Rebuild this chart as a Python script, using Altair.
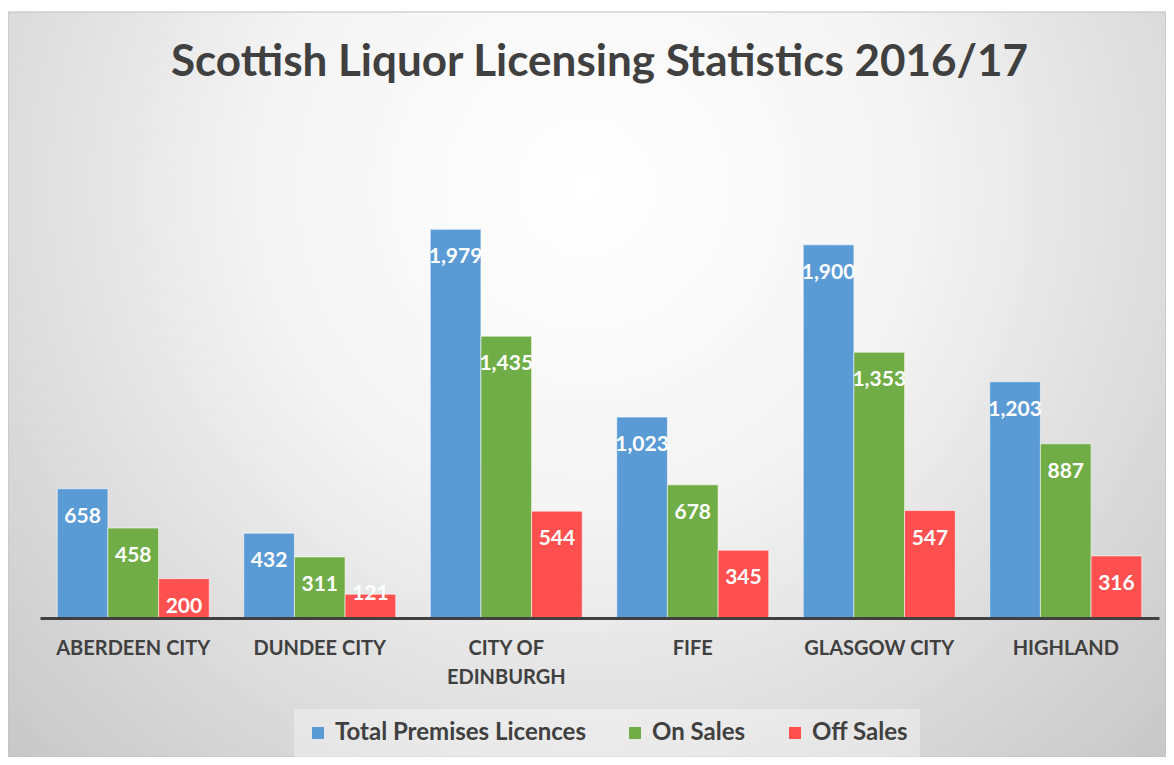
import altair as alt
import pandas as pd

regions = ["ABERDEEN CITY", "DUNDEE CITY", "CITY OF EDINBURGH", "FIFE", "GLASGOW CITY", "HIGHLAND"]
series = ["Total Premises Licences", "On Sales", "Off Sales"]
total = [658, 432, 1979, 1023, 1900, 1203]
on_sales = [458, 311, 1435, 678, 1353, 887]
off_sales = [200, 121, 544, 345, 547, 316]
colors = ["#5B9BD5", "#70AD47", "#FF5050"]

rows = []
for s, vals in zip(series, [total, on_sales, off_sales]):
    for r, v in zip(regions, vals):
        rows.append({"region": r, "series": s, "value": v})
df = pd.DataFrame(rows)

W, H = 1119, 491
FONT = "Lato"
DARK = "#404040"

x = alt.X(
    "region:N", sort=regions,
    scale=alt.Scale(paddingInner=0.185, paddingOuter=0.0925),
    axis=alt.Axis(
        title=None, labelAngle=0, ticks=False, domainColor=DARK, domainWidth=3,
        labelFont=FONT, labelFontWeight="bold", labelFontSize=20, labelColor=DARK,
        labelPadding=20, labelLineHeight=29, labelBaseline="top",
        labelExpr="datum.label == 'CITY OF EDINBURGH' ? ['CITY OF', 'EDINBURGH'] : datum.label",
        zindex=2,
    ),
)
y = alt.Y("value:Q", scale=alt.Scale(domain=[0, 2500], nice=False), axis=None)
xo = alt.XOffset("series:N", sort=series, scale=alt.Scale(paddingInner=0, paddingOuter=0))

color = alt.Color(
    "series:N", sort=series,
    scale=alt.Scale(domain=series, range=colors),
    legend=alt.Legend(
        title=None, orient="none", legendX=254, legendY=582, direction="horizontal",
        symbolType="square", symbolSize=144, symbolStrokeWidth=0,
        labelFont=FONT, labelFontWeight="bold", labelFontSize=24, labelColor=DARK,
        labelLimit=500, columnPadding=37, labelOffset=5, padding=12,
        fillColor="rgba(255,255,255,0.35)", zindex=2,
    ),
)

gradient = {
    "gradient": "radial",
    "stops": [
        {"offset": 0, "color": "#ffffff"},
        {"offset": 0.35, "color": "#f4f4f4"},
        {"offset": 1, "color": "#bdbdbd"},
    ],
    "x1": 0.5, "y1": 0.33, "r1": 0,
    "x2": 0.5, "y2": 0.33, "r2": 0.8,
}

bg = alt.Chart(pd.DataFrame({"k": [0]})).mark_rect(
    fill=gradient, stroke="#bfbfbf", strokeWidth=1
).encode(
    x=alt.value(-32), x2=alt.value(W + 7), y=alt.value(-115), y2=alt.value(H + 139)
)

base = alt.Chart(df)
bars = base.mark_bar(stroke="white", strokeOpacity=0.55, strokeWidth=1).encode(
    x=x, y=y, xOffset=xo, color=color
)
labels = base.mark_text(
    color="white", font=FONT, fontWeight="bold", fontSize=21, baseline="middle",
    dy=alt.expr("datum.value < 150 ? 0 : 28"),
).encode(
    x=x, y=y, xOffset=xo, text=alt.Text("value:Q", format=",")
)

chart = alt.layer(bg, bars, labels).properties(
    width=W, height=H,
    title=alt.TitleParams(
        "Scottish Liquor Licensing Statistics 2016/17",
        font=FONT, fontSize=44, fontWeight="bold", color=DARK,
        anchor="middle", baseline="alphabetic", offset=-108, zindex=2,
    ),
    autosize=alt.AutoSizeParams(type="none"),
    padding={"left": 32, "top": 119, "right": 7, "bottom": 139},
).configure_view(stroke=None)

chart.save("out.html", embed_options={"renderer": "svg", "actions": False})
